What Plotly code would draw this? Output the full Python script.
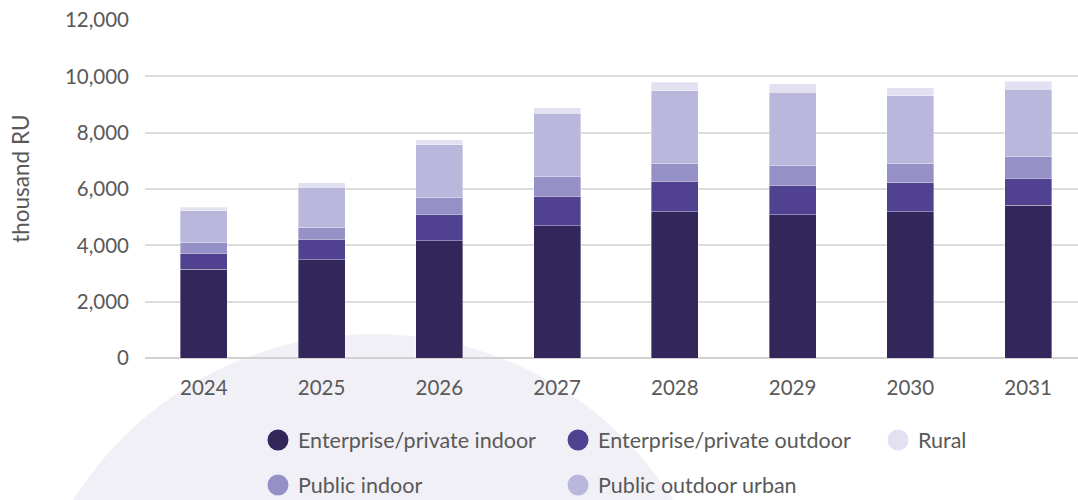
import plotly.graph_objects as go

years = ["2024", "2025", "2026", "2027", "2028", "2029", "2030", "2031"]
ent_indoor = [3150, 3490, 4170, 4700, 5200, 5080, 5200, 5420]
ent_outdoor = [570, 720, 930, 1050, 1080, 1050, 1020, 970]
public_indoor = [390, 430, 610, 710, 640, 690, 700, 780]
public_outdoor_urban = [1110, 1430, 1860, 2230, 2570, 2620, 2390, 2370]
rural = [130, 160, 180, 200, 300, 300, 280, 280]

y_ticks = [0, 2000, 4000, 6000, 8000, 10000, 12000]

series = [
    ("Enterprise/private indoor", ent_indoor, "#32265a"),
    ("Enterprise/private outdoor", ent_outdoor, "#504290"),
    ("Public indoor", public_indoor, "#9590c5"),
    ("Public outdoor urban", public_outdoor_urban, "#b9b8dc"),
    ("Rural", rural, "#e3e0f1"),
]

# legend placement: (legend id, x paper, y paper)
legend_pos = {
    "Enterprise/private indoor": ("legend", 0.1211, -0.2426),
    "Enterprise/private outdoor": ("legend2", 0.4427, -0.2426),
    "Rural": ("legend3", 0.7856, -0.2426),
    "Public indoor": ("legend4", 0.1211, -0.3757),
    "Public outdoor urban": ("legend5", 0.4427, -0.3757),
}

FONT = "Lato, 'Open Sans', sans-serif"
GREY = "#595959"

fig = go.Figure()
for name, vals, col in series:
    fig.add_trace(go.Bar(
        x=years, y=vals, name=name, marker_color=col,
        marker_line=dict(width=0.8, color="rgba(255,255,255,0.45)"),
        width=0.4, showlegend=False,
    ))

for name, vals, col in series:
    lg = legend_pos[name][0]
    fig.add_trace(go.Scatter(
        x=[None], y=[None], mode="markers", name=name, legend=lg,
        marker=dict(symbol="circle", size=16, color=col,
                    line=dict(color=col, width=6)),
        showlegend=True,
    ))

layout_legends = {}
for name, (lg, lx, ly) in legend_pos.items():
    layout_legends[lg] = dict(
        x=lx, y=ly, xanchor="left", yanchor="middle",
        orientation="h", bgcolor="rgba(0,0,0,0)", borderwidth=0,
        font=dict(family=FONT, size=21.5, color=GREY),
    )

fig.update_layout(
    width=1078, height=500,
    margin=dict(l=145, r=0, t=20, b=142, pad=0, autoexpand=False),
    barmode="stack",
    paper_bgcolor="white",
    plot_bgcolor="rgba(0,0,0,0)",
    font=dict(family=FONT, size=20, color=GREY),
    **layout_legends,
    shapes=[dict(
        type="circle", xref="paper", yref="paper", layer="below",
        x0=-0.135, x1=0.6238, y0=-2.0237, y1=0.071,
        fillcolor="#f1f0f6", line=dict(width=0),
    )],
    annotations=[dict(
        text="thousand RU", textangle=-90, xref="paper", yref="paper",
        x=-0.1329, y=0.53, xanchor="center", yanchor="middle",
        showarrow=False, font=dict(family=FONT, size=22.5, color=GREY),
    )],
)

fig.update_xaxes(
    type="category", range=[-0.5, 7.424], showgrid=False, showline=False,
    ticks="", tickfont=dict(family=FONT, size=20.5, color=GREY),
    ticklabelstandoff=15, fixedrange=True,
)
fig.update_yaxes(
    range=[0, 12000], tickvals=y_ticks, tickformat=",",
    showgrid=True, gridcolor="#dcdcdc", gridwidth=1.5,
    zeroline=True, zerolinecolor="#d2d2d2", zerolinewidth=2,
    showline=False, ticks="", tickfont=dict(family=FONT, size=20.5, color=GREY),
    ticklabelstandoff=15, fixedrange=True,
)

fig.write_html("out.html")
